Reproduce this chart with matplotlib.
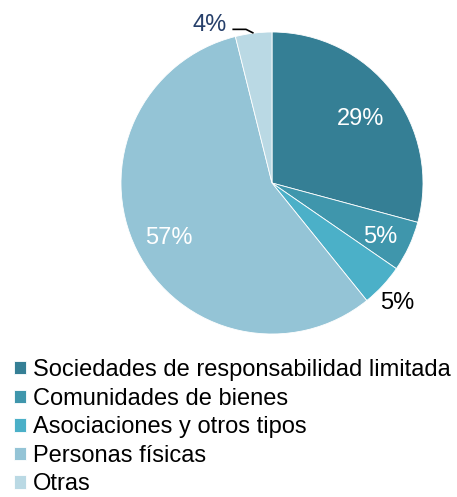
import numpy as np
import matplotlib.pyplot as plt

plt.rcParams['font.family'] = ['Liberation Sans', 'DejaVu Sans']

# datos
categorias = ['Sociedades de responsabilidad limitada', 'Comunidades de bienes',
              'Asociaciones y otros tipos', 'Personas físicas', 'Otras']
valores = [29.2, 5.4, 4.6, 56.9, 3.9]
etiquetas = ['29%', '5%', '5%', '57%', '4%']
colores = ['#357F95', '#3F96AC', '#4BB0C8', '#94C4D6', '#BAD9E4']

fig = plt.figure(figsize=(4.57, 4.97), dpi=100)
ax = fig.add_axes([121 / 457, 163 / 497, 302 / 457, 302 / 497])

wedges, _ = ax.pie(valores, colors=colores, startangle=90, counterclock=False,
                   radius=1, wedgeprops=dict(edgecolor='white', linewidth=0.6))
ax.set_xlim(-1, 1)
ax.set_ylim(-1, 1)
ax.set_aspect('equal')

# posición (radio) y color de cada etiqueta
radios = [0.74, 0.79, 1.13, 0.76, 1.16]
colores_txt = ['white', 'white', 'black', 'white', '#263F6A']
for w, txt, r, c in zip(wedges, etiquetas, radios, colores_txt):
    ang = np.deg2rad((w.theta1 + w.theta2) / 2)
    if txt == '4%':
        # línea guía desde el borde de la porción hasta la etiqueta
        px, py = np.cos(ang), np.sin(ang)
        cx, cy = px - 0.05, py + 0.025
        ax.plot([cx - 0.09, cx, px], [cy, cy, py], color='black', lw=1.2,
                clip_on=False, solid_capstyle='butt')
        ax.text(-0.415, 1.06, txt, ha='center', va='center_baseline', fontsize=17, color=c)
    else:
        ax.text(r * np.cos(ang), r * np.sin(ang) - 0.01, txt, ha='center',
                va='center_baseline', fontsize=17, color=c)

fig.legend(wedges, categorias, loc='upper left', bbox_to_anchor=(14 / 457, 1 - 359 / 497),
           frameon=False, fontsize=17, handlelength=0.5, handleheight=0.5,
           handletextpad=0.32, labelspacing=0.28, borderaxespad=0, borderpad=0)

fig.savefig('out.png', dpi=100)
